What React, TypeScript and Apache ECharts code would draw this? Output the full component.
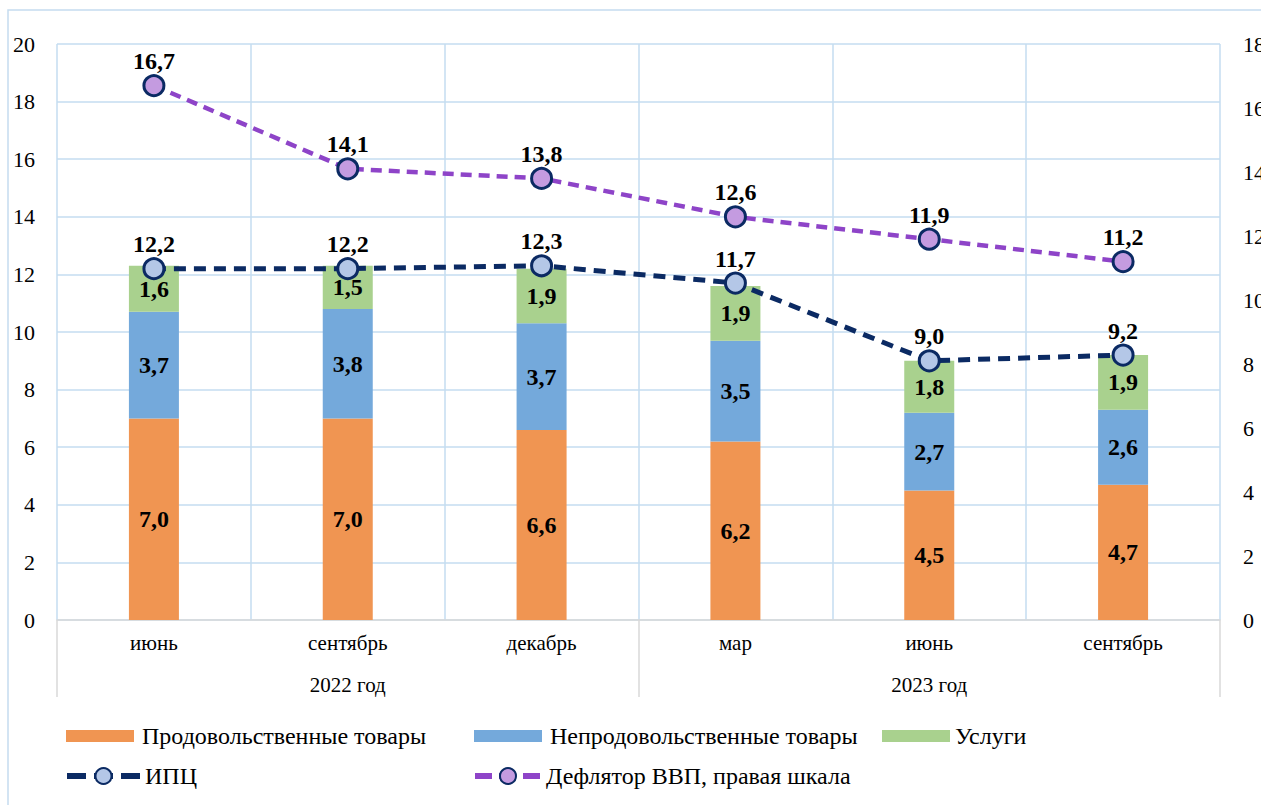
import React, { useEffect, useRef } from "react";
import * as echarts from "echarts";

const months = ["июнь", "сентябрь", "декабрь", "мар", "июнь", "сентябрь"];
const years = ["2022 год", "2023 год"];
const food = [7.0, 7.0, 6.6, 6.2, 4.5, 4.7];
const nonFood = [3.7, 3.8, 3.7, 3.5, 2.7, 2.6];
const services = [1.6, 1.5, 1.9, 1.9, 1.8, 1.9];
const cpi = [12.2, 12.2, 12.3, 11.7, 9.0, 9.2];
const deflator = [16.7, 14.1, 13.8, 12.6, 11.9, 11.2];

const FONT = "Liberation Serif";
const GRID_COLOR = "#c5dcf0";
const fmt = (p: any) => Number(p.value).toFixed(1).replace(".", ",");

export default function App() {
  const ref = useRef<HTMLDivElement>(null);
  useEffect(() => {
    if (!ref.current) return;
    const chart = echarts.init(ref.current, null, { renderer: "svg" });
    const barLabel = {
      show: true,
      position: "inside",
      formatter: fmt,
      fontFamily: FONT,
      fontSize: 24,
      fontWeight: "bold",
      color: "#000",
    };
    const lineLabel = {
      show: true,
      position: "top",
      distance: 1,
      formatter: fmt,
      fontFamily: FONT,
      fontSize: 24,
      fontWeight: "bold",
      color: "#000",
    };
    const legendText = { fontFamily: FONT, fontSize: 24, color: "#000" };
    chart.setOption({
      animation: false,
      graphic: [
        {
          type: "rect",
          shape: { x: 8, y: 10, width: 1400, height: 1000 },
          style: { fill: "none", stroke: GRID_COLOR, lineWidth: 1.5 },
          silent: true,
        },
      ],
      grid: { left: 57, right: 41, top: 44, bottom: 185, containLabel: false, outerBoundsMode: "none" },
      legend: [
        {
          left: 61, top: 719, padding: 5, itemWidth: 68, itemHeight: 12, icon: "rect",
          data: ["Продовольственные товары"],
          textStyle: { ...legendText, padding: [0, 0, 0, 3] },
        },
        {
          left: 469, top: 719, padding: 5, itemWidth: 68, itemHeight: 12, icon: "rect",
          data: ["Непродовольственные товары"],
          textStyle: { ...legendText, padding: [0, 0, 0, 3] },
        },
        {
          left: 877, top: 719, padding: 5, itemWidth: 68, itemHeight: 12, icon: "rect",
          data: ["Услуги"],
          textStyle: { ...legendText, padding: [0, 0, 0, 0] },
        },
        {
          left: 59, top: 759, padding: 5, itemWidth: 73, itemHeight: 20,
          data: ["ИПЦ"],
          lineStyle: { width: 6, type: [19, 8] },
          textStyle: { ...legendText },
        },
        {
          left: 467, top: 759, padding: 5, itemWidth: 66, itemHeight: 20,
          data: ["Дефлятор ВВП, правая шкала"],
          lineStyle: { width: 6, type: [17, 7] },
          textStyle: { ...legendText },
        },
      ],
      xAxis: [
        {
          type: "category",
          data: months,
          position: "bottom",
          axisLine: { show: true, lineStyle: { color: "#d9d9d9", width: 1.5 } },
          axisTick: { show: false },
          axisLabel: { margin: 12, fontFamily: FONT, fontSize: 21, color: "#000" },
          splitLine: { show: true, lineStyle: { color: GRID_COLOR, width: 1.5 } },
        },
        {
          type: "category",
          data: years,
          position: "bottom",
          axisLine: { show: false },
          axisTick: { show: true, length: 77, inside: false, lineStyle: { color: "#d9d9d9", width: 1.5 } },
          axisLabel: { margin: 54, fontFamily: FONT, fontSize: 21, color: "#000" },
          splitLine: { show: false },
        },
      ],
      yAxis: [
        {
          type: "value",
          min: 0, max: 20, interval: 2,
          axisLine: { show: false },
          axisTick: { show: false },
          axisLabel: { margin: 22, fontFamily: FONT, fontSize: 22, color: "#000" },
          splitLine: { show: true, lineStyle: { color: GRID_COLOR, width: 1.5 } },
        },
        {
          type: "value",
          min: 0, max: 18, interval: 2,
          position: "right",
          axisLine: { show: false },
          axisTick: { show: false },
          axisLabel: { margin: 23, fontFamily: FONT, fontSize: 22, color: "#000" },
          splitLine: { show: false },
        },
      ],
      series: [
        {
          name: "Продовольственные товары", type: "bar", stack: "cpi", data: food,
          barWidth: 50, itemStyle: { color: "#f09552" }, label: barLabel,
        },
        {
          name: "Непродовольственные товары", type: "bar", stack: "cpi", data: nonFood,
          barWidth: 50, itemStyle: { color: "#74a9db" }, label: barLabel,
        },
        {
          name: "Услуги", type: "bar", stack: "cpi", data: services,
          barWidth: 50, itemStyle: { color: "#a9d18e" }, label: barLabel,
        },
        {
          name: "ИПЦ", type: "line", data: cpi, yAxisIndex: 0, z: 5,
          symbol: "circle", symbolSize: 20,
          lineStyle: { color: "#0b2a63", width: 5, type: [12, 8] },
          itemStyle: { color: "#b4c7e7", borderColor: "#0b2a63", borderWidth: 3 },
          label: lineLabel,
        },
        {
          name: "Дефлятор ВВП, правая шкала", type: "line", data: deflator, yAxisIndex: 1, z: 5,
          symbol: "circle", symbolSize: 20,
          lineStyle: { color: "#8e44c8", width: 4.5, type: [11, 7] },
          itemStyle: { color: "#c49be0", borderColor: "#0b2a63", borderWidth: 3 },
          label: lineLabel,
        },
      ],
    });
    return () => chart.dispose();
  }, []);
  return (
    <div
      ref={ref}
      style={{ position: "absolute", left: 0, top: 0, width: 1261, height: 805 }}
    />
  );
}
